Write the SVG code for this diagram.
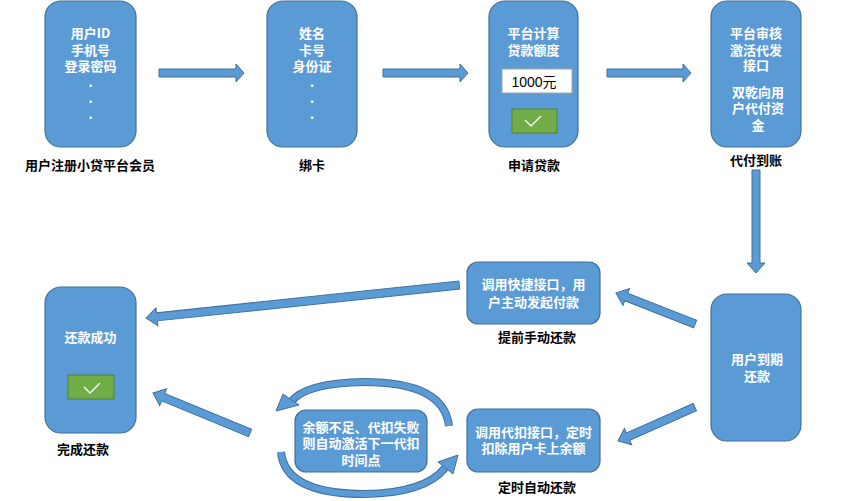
<svg xmlns="http://www.w3.org/2000/svg" width="841" height="501" viewBox="0 0 841 501">
<style>
.box{fill:#5B9BD5;stroke:#41719C;stroke-width:1.2}
.wt{fill:#FFFFFF;font-family:"Noto Sans CJK SC","Liberation Sans",sans-serif;font-size:13px;font-weight:bold;text-anchor:middle}
.lb{fill:#000000;font-family:"Noto Sans CJK SC","Liberation Sans",sans-serif;font-size:13px;font-weight:bold;text-anchor:middle}
.arr{fill:#5B9BD5;stroke:#41719C;stroke-width:1}
.ok{fill:#70AD47;stroke:#507E32;stroke-width:1}
.chk{fill:none;stroke:#FFFFFF;stroke-width:1.3}
</style>
<rect width="841" height="501" fill="#FFFFFF"/>

<g id="n1">
<rect class="box" x="45" y="1" width="91" height="146" rx="16"/>
<text class="wt"><tspan x="90.5" y="38">用户ID</tspan><tspan x="90.5" y="55">手机号</tspan><tspan x="90.5" y="71">登录密码</tspan><tspan x="90.5" y="87">.</tspan><tspan x="90.5" y="103">.</tspan><tspan x="90.5" y="119">.</tspan></text>
<text class="lb" x="90" y="170">用户注册小贷平台会员</text>
</g>

<g id="n2">
<rect class="box" x="267" y="1" width="90" height="146" rx="16"/>
<text class="wt"><tspan x="312" y="38">姓名</tspan><tspan x="312" y="55">卡号</tspan><tspan x="312" y="71">身份证</tspan><tspan x="312" y="87">.</tspan><tspan x="312" y="103">.</tspan><tspan x="312" y="119">.</tspan></text>
<text class="lb" x="312" y="170">绑卡</text>
</g>

<g id="n3">
<rect class="box" x="489" y="1" width="89" height="146" rx="16"/>
<text class="wt"><tspan x="533.5" y="38">平台计算</tspan><tspan x="533.5" y="55">贷款额度</tspan></text>
<rect x="502" y="69" width="70" height="24" fill="#FFFFFF" stroke="#A5A5A5" stroke-width="1"/>
<text x="534" y="87" fill="#000000" font-family="'Liberation Sans','Noto Sans CJK SC',sans-serif" font-size="14" text-anchor="middle">1000元</text>
<rect class="ok" x="512" y="109" width="45" height="24"/>
<polyline class="chk" points="525,120 531,126 541,116"/>
<text class="lb" x="534" y="170">申请贷款</text>
</g>

<g id="n4">
<rect class="box" x="711" y="1" width="90" height="146" rx="16"/>
<text class="wt"><tspan x="756" y="38">平台审核</tspan><tspan x="756" y="55">激活代发</tspan><tspan x="756" y="70">接口</tspan><tspan x="758" y="97">双乾向用</tspan><tspan x="758" y="113">户代付资</tspan><tspan x="758" y="130">金</tspan></text>
<text class="lb" x="756" y="165">代付到账</text>
</g>

<g id="n5">
<rect class="box" x="711" y="294" width="90" height="147" rx="16"/>
<text class="wt"><tspan x="757" y="364">用户到期</tspan><tspan x="757" y="381">还款</tspan></text>
</g>

<g id="n6">
<rect class="box" x="467" y="262" width="133" height="62" rx="11"/>
<text class="wt"><tspan x="533.5" y="289">调用快捷接口，用</tspan><tspan x="533.5" y="307">户主动发起付款</tspan></text>
<text class="lb" x="537" y="342">提前手动还款</text>
</g>

<g id="n7">
<rect class="box" x="467" y="409" width="133" height="63" rx="11"/>
<text class="wt"><tspan x="533.5" y="437">调用代扣接口，定时</tspan><tspan x="533.5" y="453">扣除用户卡上余额</tspan></text>
<text class="lb" x="537" y="492">定时自动还款</text>
</g>

<g id="n8">
<rect class="box" x="295" y="410" width="132" height="62" rx="11"/>
<text class="wt"><tspan x="361" y="432">余额不足、代扣失败</tspan><tspan x="361" y="448">则自动激活下一代扣</tspan><tspan x="361" y="465">时间点</tspan></text>
</g>

<g id="n9">
<rect class="box" x="45" y="287" width="91" height="146" rx="16"/>
<text class="wt" x="90.5" y="342">还款成功</text>
<rect class="ok" x="68" y="375" width="46" height="24"/>
<polyline class="chk" points="84,387 90,393 100,383"/>
<text class="lb" x="83" y="454">完成还款</text>
</g>

<g id="connectors">
<polygon class="arr" points="159,69 236,69 236,64 244,73 236,82 236,77 159,77"/>
<polygon class="arr" points="383,69 460,69 460,64 468,73 460,82 460,77 383,77"/>
<polygon class="arr" points="607,69 683,69 683,64 691,73 683,82 683,77 607,77"/>
<polygon class="arr" points="752,170 760,170 760,263 765,263 756,273 747,263 752,263"/>
<polygon class="arr" transform="translate(146,318) rotate(-6.02)" points="0,0 11,-9 11,-4 315,-4 315,4 11,4 11,9"/>
<polygon class="arr" transform="translate(153,393) rotate(22.4)" points="0,0 11,-9 11,-4 105,-4 105,4 11,4 11,9"/>
<polygon class="arr" transform="translate(616,293) rotate(21.4)" points="0,0 11,-9 11,-4 85,-4 85,4 11,4 11,9"/>
<polygon class="arr" transform="translate(618,441) rotate(-23.8)" points="0,0 11,-9 11,-4 84,-4 84,4 11,4 11,9"/>
<path d="M 449 426 Q 444 382 364 382 Q 305 383 291 402" fill="none" stroke="#41719C" stroke-width="8"/>
<path d="M 449 426 Q 444 382 364 382 Q 305 383 291 402" fill="none" stroke="#5B9BD5" stroke-width="6"/>
<polygon class="arr" points="276,411 283,394 299,405"/>
<path d="M 281 452 Q 285 494 365 494 Q 425 493 445 468" fill="none" stroke="#41719C" stroke-width="8"/>
<path d="M 281 452 Q 285 494 365 494 Q 425 493 445 468" fill="none" stroke="#5B9BD5" stroke-width="6"/>
<polygon class="arr" points="458,455 453,474 438,462"/>
</g>
</svg>
